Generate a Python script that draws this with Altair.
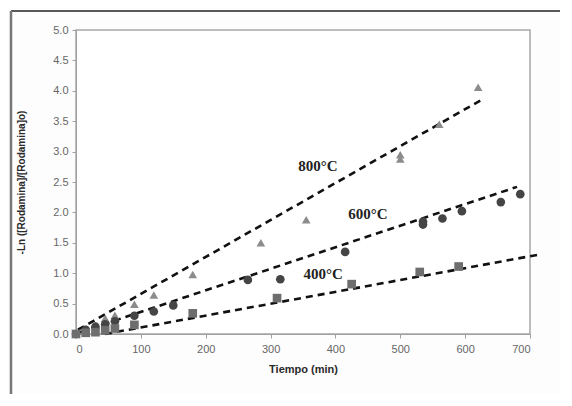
import altair as alt
import pandas as pd

# ---- data ----
t800 = [0, 15, 30, 45, 60, 90, 120, 180, 285, 355, 500, 500, 560, 620]
y800 = [0.0, 0.08, 0.14, 0.26, 0.31, 0.49, 0.64, 0.98, 1.50, 1.88, 2.95, 2.88, 3.45, 4.06]

t600 = [0, 15, 30, 45, 60, 90, 120, 150, 265, 315, 415, 535, 535, 565, 595, 655, 685]
y600 = [0.0, 0.07, 0.12, 0.16, 0.21, 0.30, 0.37, 0.47, 0.89, 0.90, 1.35, 1.85, 1.80, 1.90, 2.02, 2.17, 2.30]

t400 = [0, 15, 30, 45, 60, 90, 180, 310, 425, 530, 590]
y400 = [0.0, 0.02, 0.03, 0.06, 0.09, 0.15, 0.34, 0.59, 0.82, 1.02, 1.11]

# trend line end points
fit800_t = [3, 630]
fit800_y = [0.07, 3.88]
fit600_t = [6, 680]
fit600_y = [0.03, 2.42]
fit400_t = [45, 711]
fit400_y = [0.0, 1.30]

series_names = ["800°C", "600°C", "400°C"]
label_t = [373, 450, 381]
label_y = [2.76, 1.97, 0.99]

x_ticks = [0, 100, 200, 300, 400, 500, 600, 700]
y_ticks = [0.0, 0.5, 1.0, 1.5, 2.0, 2.5, 3.0, 3.5, 4.0, 4.5, 5.0]

# ---- tables ----
pts = pd.concat([
    pd.DataFrame({"t": t800, "y": y800, "s": "800°C"}),
    pd.DataFrame({"t": t600, "y": y600, "s": "600°C"}),
    pd.DataFrame({"t": t400, "y": y400, "s": "400°C"}),
], ignore_index=True)

fits = pd.concat([
    pd.DataFrame({"t": fit800_t, "y": fit800_y, "s": "800°C"}),
    pd.DataFrame({"t": fit600_t, "y": fit600_y, "s": "600°C"}),
    pd.DataFrame({"t": fit400_t, "y": fit400_y, "s": "400°C"}),
], ignore_index=True)

labels = pd.DataFrame({"t": label_t, "y": label_y, "s": series_names})

xscale = alt.Scale(domain=[0, 700], nice=False)
yscale = alt.Scale(domain=[0, 5], nice=False)

xaxis = alt.Axis(values=x_ticks, title="Tiempo (min)", format="d", grid=False,
                 labelFontSize=11, titleFontSize=11, labelPadding=5,
                 titlePadding=9)
yaxis = alt.Axis(values=y_ticks, title="-Ln ([Rodamina]/[Rodamina]o)", format=".1f",
                 grid=False, labelFontSize=11, titleFontSize=10, labelPadding=4,
                 titlePadding=26)

base_x = alt.X("t:Q", scale=xscale, axis=xaxis)
base_y = alt.Y("y:Q", scale=yscale, axis=yaxis)

lines = alt.Chart(fits).mark_line(color="#111111", strokeWidth=2.6,
                                  strokeDash=[7, 5]).encode(
    x=base_x, y=base_y, detail="s:N")

points = alt.Chart(pts).mark_point(filled=True, opacity=1, size=75).encode(
    x=base_x, y=base_y,
    shape=alt.Shape("s:N", scale=alt.Scale(domain=series_names,
                                           range=["triangle-up", "circle", "square"]),
                    legend=None),
    color=alt.Color("s:N", scale=alt.Scale(domain=series_names,
                                           range=["#8c8c8c", "#454545", "#6e6e6e"]),
                    legend=None),
)

text = alt.Chart(labels).mark_text(font="Liberation Serif", fontWeight="bold",
                                   fontSize=15, color="#222222").encode(
    x=base_x, y=base_y, text="s:N")

# outer frame (decorative)
frame_top = alt.Chart(pd.DataFrame({"a": [0]})).mark_rule(color="#222222", strokeWidth=1.5).encode(
    x=alt.value(-65), x2=alt.value(500), y=alt.value(-19))
frame_left = alt.Chart(pd.DataFrame({"a": [0]})).mark_rule(color="#777777", strokeWidth=2.5).encode(
    x=alt.value(-65), y=alt.value(-19), y2=alt.value(380))

chart = alt.layer(lines, points, text, frame_top, frame_left).properties(
    width=454, height=304,
    autosize=alt.AutoSizeParams(type="none"),
    padding={"left": 68, "top": 22, "right": 30, "bottom": 60},
    background="#fdfdfd",
).configure_view(
    stroke="#a8a8a8", strokeWidth=1.5, fill="white"
).configure_axis(
    domainColor="#a0a0a0", tickColor="#a0a0a0", tickSize=4,
    labelColor="#666666", titleColor="#2a2a2a",
    labelFont="Liberation Sans", titleFont="Liberation Sans",
    titleFontWeight="bold",
)

chart.save("out.html", embed_options={"renderer": "svg", "actions": False})
